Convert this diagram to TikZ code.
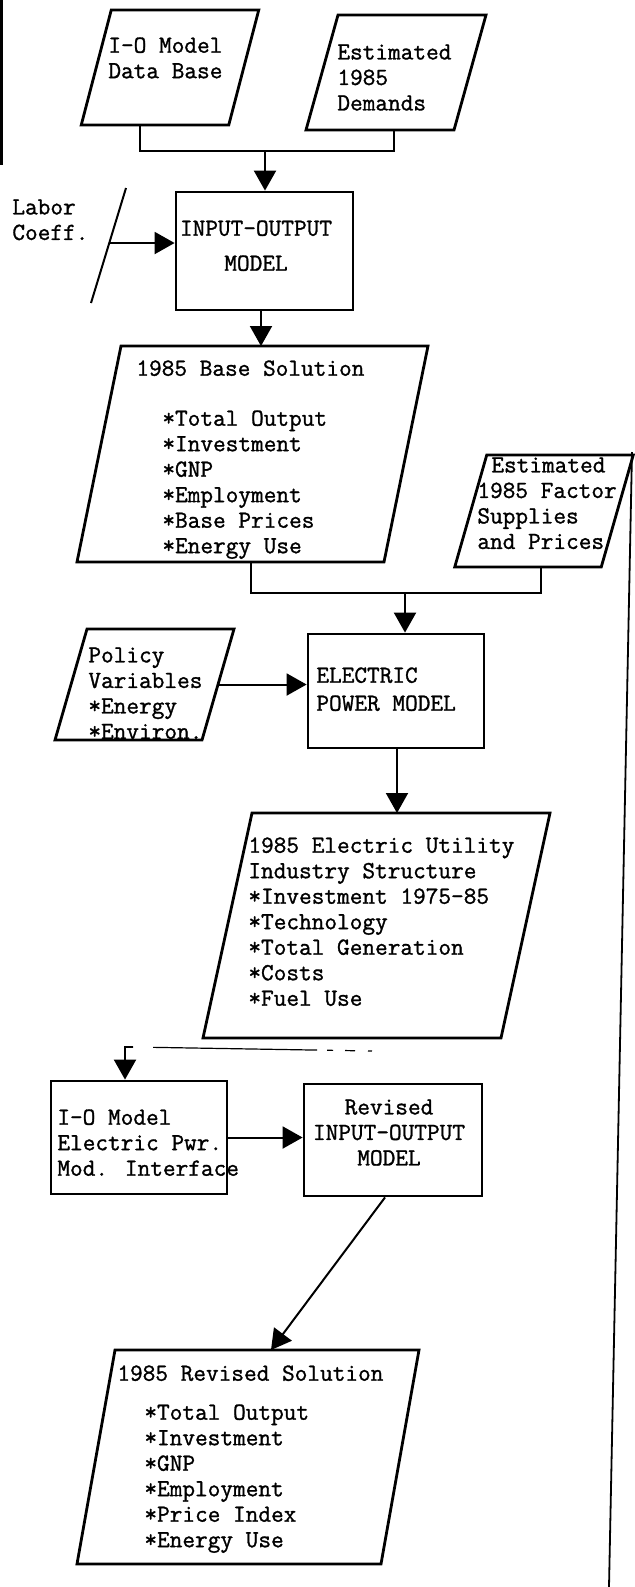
\documentclass[tikz,border=0pt]{standalone}
\usepackage{fontspec}
\newfontfamily\typewr{Latin Modern Mono}[FakeBold=1.2]
\usetikzlibrary{calc,arrows.meta}

% outline of a slanted box round an empty frame node
\newcommand{\slantbox}[2]{\draw[boxline] ($(#1.north west)+(#2,0)$) -- ($(#1.north east)+(#2,0)$) -- ($(#1.south east)-(#2,0)$) -- ($(#1.south west)-(#2,0)$) -- cycle;}

\begin{document}
\begin{tikzpicture}[x=0.5pt,y=-0.5pt,>={Triangle[length=10pt,width=11pt]},
  frame/.style={draw=none,inner sep=0pt,outer sep=0pt},
  boxed/.style={draw,line width=1.4pt,inner sep=0pt},
  boxline/.style={line width=1.4pt,line join=miter},
  txt/.style={font=\typewr\fontsize{12.3}{12.75}\selectfont,inner sep=0pt,anchor=north west,align=left},
  link/.style={line width=1pt},
  faint/.style={line width=0.6pt,dash pattern=on 2pt off 6.5pt on 5pt off 6pt on 3pt off 5pt on 82pt off 10pt}]
\fill[white] (0,0) rectangle (634,1587);
\useasboundingbox (0,0) rectangle (634,1587);

% page edges
\coordinate (lefttop) at (1.5,0);
\coordinate (leftbot) at (1.5,165);
\draw[line width=1.5pt] (lefttop) -- (leftbot);
\coordinate (righttop) at (632,452);
\coordinate (rightbot) at (609,1587);
\draw[line width=0.9pt] (righttop) -- (rightbot);

% inputs
\node[frame,minimum width=73.75pt,minimum height=57.5pt] (iodata) at (170,67.5) {};
\slantbox{iodata}{15}
\node[txt] (iodatatxt) at (108,37) {I-O Model\\Data Base};
\node[frame,minimum width=74pt,minimum height=57.5pt] (demands) at (396,72.5) {};
\slantbox{demands}{16}
\node[txt] (demandstxt) at (337,44) {Estimated\\1985\\Demands};

\node[boxed,minimum width=88.5pt,minimum height=59pt] (iomodel) at (264.5,251) {};
\node[txt,anchor=north,align=center] (iomodeltxt) at (256,220) {INPUT-OUTPUT\\[4.75pt]MODEL};

\node[txt] (labor) at (12,199) {Labor\\Coeff.};
\coordinate (labortop) at (126,188);
\coordinate (laborbot) at (91,303);
\draw[link] (labortop) -- (laborbot);
\coordinate (laborin) at (109,243);

\coordinate (ioj) at (265,151);
\draw[link] (iodata.south -| 140,0) |- (ioj) -| (demands.south -| 394,0);
\draw[link,->] (ioj) -- (iomodel.north -| ioj);
\draw[link,->] (laborin) -- (iomodel.west |- laborin);

% base solution
\node[frame,minimum width=153.5pt,minimum height=108pt] (basesol) at (252.5,454) {};
\slantbox{basesol}{22}
\node[txt] (basehead) at (136,360) {1985 Base Solution};
\node[txt] (baseitems) at (162,410) {*Total Output\\*Investment\\*GNP\\*Employment\\*Base Prices\\*Energy Use};
\draw[link,->] (iomodel.south -| 261,0) -- (basesol.north -| 261,0);

\node[frame,minimum width=73.25pt,minimum height=56pt] (factors) at (544,511) {};
\slantbox{factors}{16}
\node[txt] (factorstxt) at (477,457) {\hspace*{7pt}Estimated\\1985 Factor\\Supplies\\and Prices};

% electric power model
\node[boxed,minimum width=88pt,minimum height=57pt] (elpower) at (396,691) {};
\node[txt] (elpowertxt) at (316,667) {ELECTRIC\\[1.25pt]POWER MODEL};
\coordinate (basej) at (405,593);
\draw[link] (basesol.south -| 251,0) |- (basej) -| (factors.south -| 541,0);
\draw[link,->] (basej) -- (elpower.north -| basej);

\node[frame,minimum width=73.5pt,minimum height=55.5pt] (policy) at (144.5,684.5) {};
\slantbox{policy}{16}
\node[txt] (policytxt) at (88,647) {Policy\\Variables\\*Energy\\*Environ.};
\draw[link,->] (policy.east) -- (elpower.west |- policy.east);

\node[frame,minimum width=149pt,minimum height=112.5pt] (utility) at (376.5,925.5) {};
\slantbox{utility}{24.5}
\node[txt] (utilitytxt) at (248,837) {1985 Electric Utility\\Industry Structure\\*Investment 1975-85\\*Technology\\*Total Generation\\*Costs\\*Fuel Use};
\draw[link,->] (elpower.south -| 397,0) -- (utility.north -| 397,0);

% revised model
\node[boxed,minimum width=88pt,minimum height=56.5pt] (iface) at (139,1137.5) {};
\node[txt] (ifacetxt) at (57,1109) {I-O Model\\Electric Pwr.\\Mod. Interface};
\coordinate (utilout) at (372,1051);
\coordinate (hook) at (133,1047);
\draw[faint] (utilout) -- (hook);
\draw[link,->] (hook) -| (iface.north -| 125,0);

\node[boxed,minimum width=89pt,minimum height=56pt] (revio) at (393,1140) {};
\node[txt,anchor=north,align=center] (reviotxt) at (389,1099) {Revised\\INPUT-OUTPUT\\MODEL};
\draw[link,->] (iface.east) -- (revio.west |- iface.east);

\node[frame,minimum width=152pt,minimum height=107pt] (revsol) at (248,1457) {};
\slantbox{revsol}{19}
\node[txt] (revhead) at (117,1365) {1985 Revised Solution};
\node[txt] (revitems) at (144,1404) {*Total Output\\*Investment\\*GNP\\*Employment\\*Price Index\\*Energy Use};
\draw[link,->] (revio.south -| 385,0) -- (revsol.north -| 271,0);
\end{tikzpicture}
\end{document}
